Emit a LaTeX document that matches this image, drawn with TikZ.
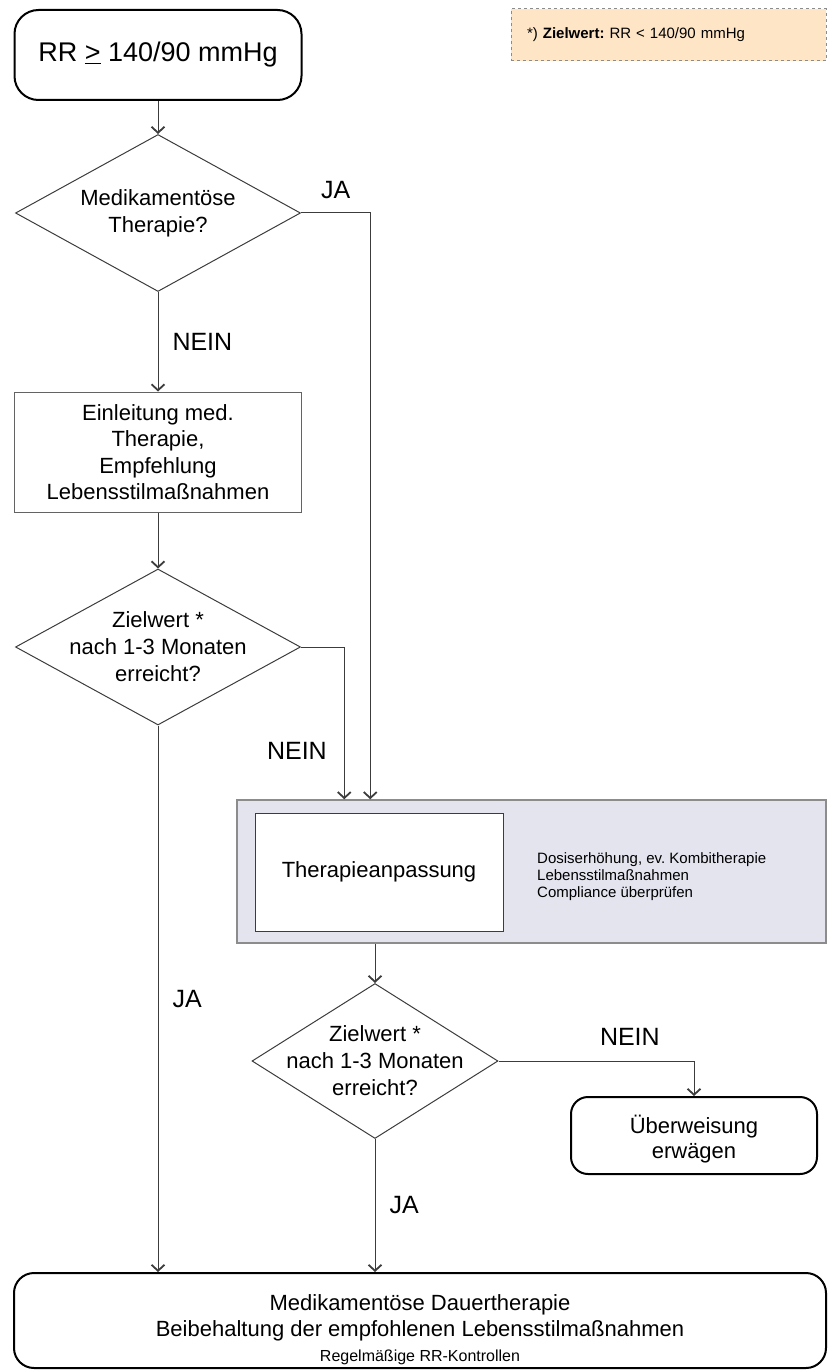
\documentclass[tikz,border=0pt]{standalone}
\usepackage{fontspec}
\setmainfont{Liberation Sans}
\frenchspacing
\usepackage{tikz}
\usetikzlibrary{arrows.meta,positioning,shapes.geometric,calc}
\definecolor{notefill}{RGB}{253,229,197}
\definecolor{notedraw}{RGB}{140,140,140}
\definecolor{adjfill}{RGB}{227,228,238}
\definecolor{adjdraw}{RGB}{140,140,140}
\definecolor{linegray}{RGB}{60,60,60}
\tikzset{
  startbox/.style={draw, line width=2pt, rounded corners=24pt, align=center, minimum width=287pt, minimum height=90pt, font=\fontsize{27}{32}\selectfont},
  endbox/.style={draw, line width=2pt, rounded corners=20pt, align=center, inner sep=0pt},
  decision/.style={draw=linegray, line width=1pt, diamond, inner xsep=-25pt, inner ysep=-25pt, minimum width=285pt, minimum height=157pt, align=center, font=\fontsize{22}{27}\selectfont},
  procbox/.style={draw=linegray!80, line width=1pt, align=center, minimum width=287pt, minimum height=120pt, font=\fontsize{22}{26.5}\selectfont},
  adjbox/.style={draw=adjdraw, fill=adjfill, line width=1.5pt, minimum width=589pt, minimum height=143pt},
  innerbox/.style={draw=linegray, fill=white, line width=1pt, minimum width=248pt, minimum height=118pt, font=\fontsize{22}{27}\selectfont},
  smalltext/.style={align=left, inner sep=0pt, font=\fontsize{15}{17}\selectfont},
  notebox/.style={draw=notedraw, dashed, fill=notefill, line width=1pt, text width=283pt, inner xsep=16pt, minimum height=52pt, align=left, font=\fontsize{15}{18}\selectfont},
  answer/.style={font=\fontsize{25}{30}\selectfont, inner sep=0pt},
  arrow/.style={-{Straight Barb[length=6pt,width=13pt,line width=1.8pt]}, draw=linegray, line width=1pt}
}
\begin{document}
\begin{tikzpicture}[x=1pt, y=-1pt]
  \useasboundingbox (0,0) rectangle (827,1372);

  \node[notebox] (note) at (668.5,35) {*) \textbf{Zielwert:} RR < 140/90 mmHg};

  \node[startbox] (start) at (158,55) {RR \underline{>} 140/90 mmHg};
  \node[decision] (d1) at (158,213) {Medikamentöse\\Therapie?};
  \node[procbox] (einl) at (158,452) {Einleitung med.\\Therapie,\\Empfehlung\\Lebensstilmaßnahmen};
  \node[decision, minimum height=156pt] (d2) at (158,647) {Zielwert *\\nach 1-3 Monaten\\erreicht?};

  % Therapieanpassung block
  \node[adjbox] (adjbg) at (531.5,871.5) {};
  \node[innerbox] (adj) at (379,872) {Therapieanpassung};
  \node[smalltext, anchor=west] (adjnote) at (537,877) {Dosiserhöhung, ev. Kombitherapie\\Lebensstilmaßnahmen\\Compliance überprüfen};

  \node[decision, minimum width=246pt, minimum height=155pt] (d3) at (375,1061) {Zielwert *\\nach 1-3 Monaten\\erreicht?};
  \node[endbox, rounded corners=17pt, minimum width=246pt, minimum height=77pt, font=\fontsize{22}{25}\selectfont] (refer) at (694,1135.5) {\rule{0pt}{26pt}Überweisung\\erwägen};

  \node[endbox, minimum width=812pt, minimum height=95pt] (final) at (420,1320.5) {{\fontsize{22}{28}\selectfont\rule{0pt}{34pt}Medikamentöse Dauertherapie}\\[5pt]{\fontsize{22}{28}\selectfont Beibehaltung der empfohlenen Lebensstilmaßnahmen}\\[8pt]{\fontsize{16}{20}\selectfont Regelmäßige RR-Kontrollen}};

  \draw[arrow] (start) -- (d1);
  \draw[arrow] (d1) -- node[answer, right=14pt] {NEIN} (einl);
  \draw[arrow] (d1.east) -| node[answer, pos=0.25, above=14pt] {JA} ([xshift=134pt]adjbg.north west);
  \draw[arrow] (einl) -- (d2);
  \draw[arrow] (d2.east) -| node[answer, pos=0.84, left=17pt] {NEIN} ([xshift=108pt]adjbg.north west);
  \draw[arrow] (d2.south) -- node[answer, right=14pt] {JA} (d2.south |- final.north);
  \draw[arrow] (d3.north |- adjbg.south) -- (d3.north);
  \draw[arrow] (d3.east) -| node[answer, pos=0.336, above=15pt] {NEIN} (refer.north);
  \draw[arrow] (d3.south) -- node[answer, right=14pt] {JA} (d3.south |- final.north);
\end{tikzpicture}
\end{document}
